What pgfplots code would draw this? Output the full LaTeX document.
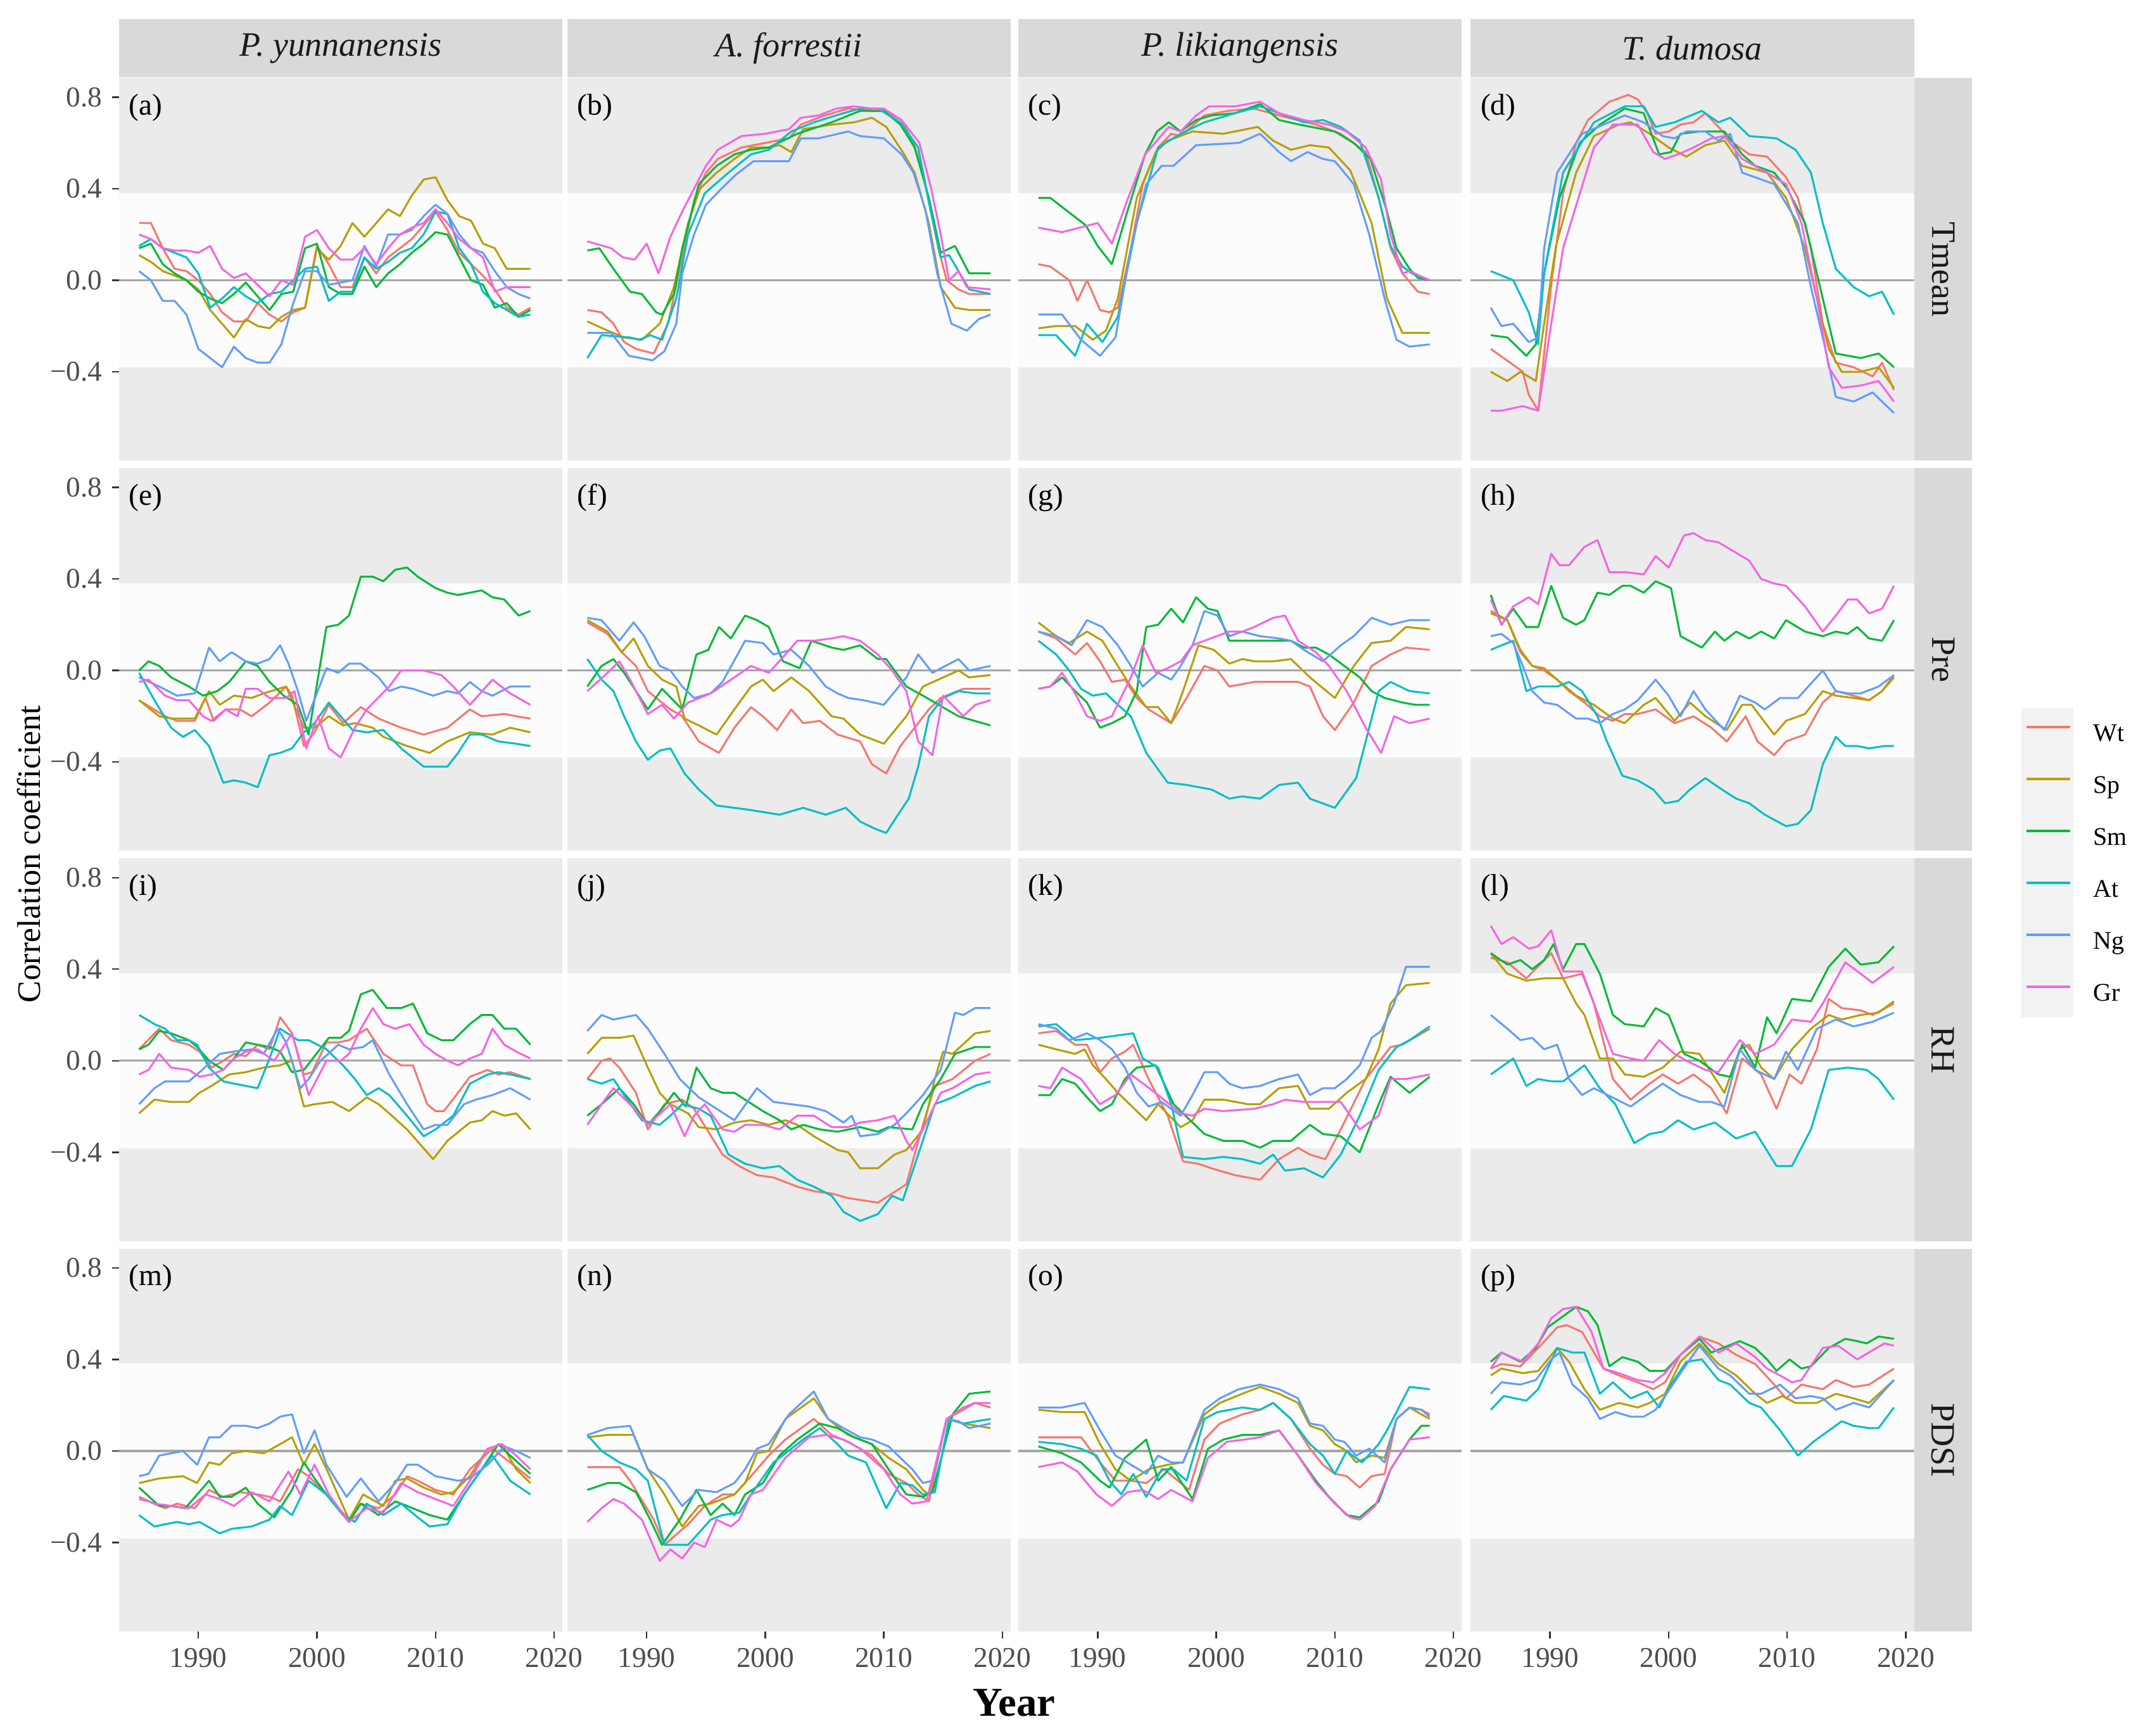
\documentclass[border=0pt]{standalone}
\usepackage{fontspec}
\setmainfont{Liberation Serif}
\usepackage{pgfplots}
\pgfplotsset{compat=1.18}

\definecolor{cWt}{HTML}{F8766D}
\definecolor{cSp}{HTML}{B79F00}
\definecolor{cSm}{HTML}{00BA38}
\definecolor{cAt}{HTML}{00BFC4}
\definecolor{cNg}{HTML}{619CFF}
\definecolor{cGr}{HTML}{F564E3}
\definecolor{panelc}{HTML}{EBEBEB}
\definecolor{bandc}{HTML}{FCFCFC}
\definecolor{stripc}{HTML}{D9D9D9}
\definecolor{keyc}{HTML}{F2F2F2}
\definecolor{zeroc}{HTML}{A6A6A6}
\definecolor{tickc}{HTML}{333333}
\definecolor{ticklc}{HTML}{4D4D4D}

\pgfplotsset{
  panel/.style={scale only axis, width=162.25pt, height=140pt,
    xmin=1983.3, xmax=2020.7, ymin=-0.788, ymax=0.884,
    axis line style={draw=none}, axis background/.style={fill=panelc},
    xtick=\empty, ytick=\empty, xtick pos=left, ytick pos=left,
    tick align=outside, major tick length=2.6pt,
    tick style={draw=tickc, line width=0.55pt},
    ticklabel style={font=\fontsize{10.5}{12}\selectfont, text=ticklc},
    anchor=north west},
  ylab/.style={ytick={-0.4,0,0.4,0.8}, yticklabels={−0.4,0.0,0.4,0.8}},
  xlab/.style={xtick={1990,2000,2010,2020}, xticklabels={1990,2000,2010,2020}},
  sWt/.style={cWt, line width=0.7pt, line join=round},
  sSp/.style={cSp, line width=0.7pt, line join=round},
  sSm/.style={cSm, line width=0.7pt, line join=round},
  sAt/.style={cAt, line width=0.7pt, line join=round},
  sNg/.style={cNg, line width=0.7pt, line join=round},
  sGr/.style={cGr, line width=0.7pt, line join=round},
}

\newcommand\panelbg{%
  \addplot[draw=none, fill=bandc, forget plot] coordinates {(1983.3,-0.381)(2020.7,-0.381)(2020.7,0.381)(1983.3,0.381)};
  \addplot[zeroc, line width=0.75pt, forget plot] coordinates {(1983.3,0)(2020.7,0)};}
\newcommand\plab[1]{\node[anchor=west, inner sep=0pt, font=\fontsize{11}{13}\selectfont] at (axis cs:1984.1,0.755) {(#1)};}

\begin{document}
\begin{tikzpicture}
\path[use as bounding box] (0pt,0pt) rectangle (784pt,-635pt);
% legend key background (behind the legend lines)
\fill[keyc] (739.5pt,-259pt) rectangle (758.5pt,-372pt);

% ---------------- row 1: Tmean ----------------
\begin{axis}[panel, ylab, at={(43.5pt,-28.5pt)}]
\panelbg
\addplot[sWt] coordinates {(1985,0.25)(1986,0.25)(1987,0.14)(1988,0.05)(1989,0.04)(1990,0.0)(1991,-0.06)(1992,-0.14)(1993,-0.18)(1994,-0.18)(1995,-0.1)(1996,-0.15)(1997,-0.18)(1998,-0.14)(1999,-0.12)(2000,0.15)(2001,0.07)(2002,-0.03)(2003,-0.03)(2004,0.1)(2005,0.03)(2006,0.1)(2007,0.14)(2008,0.18)(2009,0.24)(2010,0.3)(2011,0.22)(2012,0.12)(2013,0.07)(2014,0.02)(2015,-0.04)(2016,-0.12)(2017,-0.15)(2018,-0.12)};
\addplot[sSp] coordinates {(1985,0.11)(1986,0.08)(1987,0.04)(1988,0.02)(1989,0.0)(1990,-0.04)(1991,-0.13)(1992,-0.19)(1993,-0.25)(1994,-0.17)(1995,-0.2)(1996,-0.21)(1997,-0.16)(1998,-0.13)(1999,-0.12)(2000,0.14)(2001,0.09)(2002,0.15)(2003,0.25)(2004,0.19)(2005,0.25)(2006,0.31)(2007,0.28)(2008,0.37)(2009,0.44)(2010,0.45)(2011,0.35)(2012,0.28)(2013,0.26)(2014,0.16)(2015,0.14)(2016,0.05)(2017,0.05)(2018,0.05)};
\addplot[sSm] coordinates {(1985,0.14)(1986,0.16)(1987,0.07)(1988,0.03)(1989,0.0)(1990,-0.05)(1991,-0.08)(1992,-0.1)(1993,-0.06)(1994,-0.01)(1995,-0.07)(1996,-0.13)(1997,-0.06)(1998,-0.05)(1999,0.14)(2000,0.16)(2001,-0.03)(2002,-0.06)(2003,-0.06)(2004,0.06)(2005,-0.03)(2006,0.03)(2007,0.07)(2008,0.12)(2009,0.16)(2010,0.21)(2011,0.2)(2012,0.1)(2013,0.0)(2014,-0.02)(2015,-0.12)(2016,-0.1)(2017,-0.16)(2018,-0.13)};
\addplot[sAt] coordinates {(1985,0.15)(1986,0.18)(1987,0.14)(1988,0.12)(1989,0.1)(1990,0.03)(1991,-0.12)(1992,-0.08)(1993,-0.03)(1994,-0.07)(1995,-0.1)(1996,-0.06)(1997,-0.05)(1998,0.0)(1999,0.05)(2000,0.06)(2001,-0.09)(2002,-0.05)(2003,-0.05)(2004,0.1)(2005,0.05)(2006,0.08)(2007,0.12)(2008,0.14)(2009,0.2)(2010,0.3)(2011,0.29)(2012,0.14)(2013,0.07)(2014,-0.05)(2015,-0.1)(2016,-0.13)(2017,-0.16)(2018,-0.15)};
\addplot[sNg] coordinates {(1985,0.04)(1986,0.0)(1987,-0.09)(1988,-0.09)(1989,-0.15)(1990,-0.3)(1991,-0.34)(1992,-0.38)(1993,-0.29)(1994,-0.34)(1995,-0.36)(1996,-0.36)(1997,-0.28)(1998,-0.1)(1999,0.04)(2000,0.04)(2001,-0.02)(2002,-0.01)(2003,0.0)(2004,0.15)(2005,0.06)(2006,0.2)(2007,0.2)(2008,0.22)(2009,0.28)(2010,0.33)(2011,0.29)(2012,0.2)(2013,0.14)(2014,0.12)(2015,0.04)(2016,-0.03)(2017,-0.06)(2018,-0.08)};
\addplot[sGr] coordinates {(1985,0.2)(1986,0.18)(1987,0.14)(1988,0.13)(1989,0.13)(1990,0.12)(1991,0.15)(1992,0.05)(1993,0.01)(1994,0.03)(1995,-0.02)(1996,-0.07)(1997,0.0)(1998,-0.02)(1999,0.19)(2000,0.22)(2001,0.14)(2002,0.09)(2003,0.09)(2004,0.14)(2005,0.07)(2006,0.14)(2007,0.2)(2008,0.23)(2009,0.25)(2010,0.31)(2011,0.25)(2012,0.18)(2013,0.14)(2014,0.1)(2015,-0.05)(2016,-0.03)(2017,-0.03)(2018,-0.03)};
\plab{a}
\end{axis}

\begin{axis}[panel, at={(207.5pt,-28.5pt)}]
\panelbg
\addplot[sWt] coordinates {(1985,-0.13)(1986.2,-0.14)(1987.2,-0.19)(1988.1,-0.27)(1989.1,-0.3)(1990.6,-0.32)(1991.8,-0.19)(1993,0.1)(1994,0.35)(1995,0.47)(1996,0.53)(1998,0.58)(2000,0.6)(2002,0.62)(2003,0.68)(2005,0.72)(2007,0.75)(2009,0.74)(2010,0.74)(2011.5,0.7)(2012.5,0.6)(2013.3,0.47)(2014.6,0.14)(2015.3,0.0)(2016.3,-0.04)(2017.2,-0.06)(2019,-0.06)};
\addplot[sSp] coordinates {(1985,-0.18)(1986.7,-0.22)(1988.1,-0.25)(1989.6,-0.26)(1991.1,-0.19)(1992.3,-0.03)(1993.5,0.25)(1994.5,0.4)(1995.9,0.47)(1997.4,0.53)(1998.8,0.58)(2000.3,0.58)(2001.2,0.59)(2002.2,0.56)(2003.2,0.66)(2005.6,0.68)(2007.5,0.69)(2009,0.71)(2010.2,0.67)(2011.6,0.56)(2012.6,0.47)(2013.8,0.25)(2014.8,-0.03)(2016,-0.12)(2017.2,-0.13)(2019,-0.13)};
\addplot[sSm] coordinates {(1985,0.13)(1986,0.14)(1987.2,0.05)(1988.6,-0.05)(1989.6,-0.06)(1990.8,-0.14)(1991.3,-0.15)(1992.3,-0.06)(1993,0.14)(1994.4,0.42)(1995.9,0.5)(1997.4,0.55)(1998.8,0.57)(2000.3,0.58)(2002.7,0.64)(2005.6,0.69)(2008,0.74)(2010,0.74)(2011.4,0.68)(2012.6,0.58)(2013.8,0.36)(2014.8,0.12)(2016,0.15)(2017.2,0.03)(2019,0.03)};
\addplot[sAt] coordinates {(1985,-0.34)(1986.2,-0.24)(1988.6,-0.25)(1989.4,-0.26)(1990.3,-0.24)(1991.3,-0.26)(1992.5,-0.08)(1993.5,0.2)(1994.9,0.38)(1996.9,0.47)(1998.8,0.55)(2000.3,0.57)(2002.2,0.65)(2004.1,0.69)(2006.6,0.73)(2008,0.75)(2009.5,0.75)(2011.4,0.69)(2012.9,0.58)(2013.8,0.34)(2014.8,0.1)(2015.5,0.11)(2017.2,-0.04)(2019,-0.06)};
\addplot[sNg] coordinates {(1985,-0.23)(1987,-0.23)(1988.5,-0.33)(1989.5,-0.34)(1990.5,-0.35)(1991.5,-0.31)(1992.5,-0.19)(1993,0.03)(1994,0.2)(1995,0.33)(1996.5,0.41)(1997.5,0.46)(1999,0.52)(2002,0.52)(2003,0.62)(2004.5,0.62)(2007,0.65)(2008,0.63)(2010,0.62)(2011.5,0.55)(2012.5,0.47)(2013.5,0.31)(2014.5,0.03)(2015.7,-0.19)(2017,-0.22)(2018,-0.17)(2019,-0.15)};
\addplot[sGr] coordinates {(1985,0.17)(1987,0.14)(1988,0.1)(1989,0.09)(1990,0.16)(1991,0.03)(1992,0.19)(1993,0.3)(1994,0.4)(1995,0.5)(1996,0.57)(1997,0.6)(1998,0.63)(2000,0.64)(2002,0.66)(2003,0.71)(2004.5,0.72)(2006,0.75)(2007.5,0.76)(2009,0.75)(2010,0.75)(2011.5,0.7)(2013,0.6)(2014,0.4)(2014.8,0.2)(2015.5,0.0)(2016.3,0.04)(2017,-0.03)(2019,-0.04)};
\plab{b}
\end{axis}

\begin{axis}[panel, at={(372.5pt,-28.5pt)}]
\panelbg
\addplot[sWt] coordinates {(1985,0.07)(1986,0.06)(1987.6,0.0)(1988.3,-0.09)(1989.1,0.0)(1990.2,-0.13)(1991,-0.14)(1991.7,-0.12)(1992.8,0.14)(1993.8,0.42)(1995.1,0.58)(1996.2,0.64)(1997,0.63)(1999,0.72)(2001,0.74)(2003.2,0.75)(2005.3,0.72)(2008.4,0.68)(2010.5,0.64)(2012.6,0.56)(2013.7,0.36)(2014.7,0.14)(2015.7,0.03)(2017,-0.05)(2018,-0.06)};
\addplot[sSp] coordinates {(1985,-0.21)(1986.5,-0.2)(1988.1,-0.2)(1989.6,-0.26)(1990.7,-0.22)(1991.7,-0.08)(1993.3,0.36)(1994.9,0.56)(1995.9,0.61)(1998,0.65)(2000.6,0.64)(2003.5,0.67)(2004.8,0.61)(2006.3,0.57)(2007.9,0.59)(2009.5,0.58)(2011.3,0.48)(2013.1,0.25)(2014.4,-0.08)(2015.7,-0.23)(2018,-0.23)};
\addplot[sSm] coordinates {(1985,0.36)(1986,0.36)(1987.5,0.3)(1989,0.24)(1990,0.15)(1991.2,0.07)(1992.5,0.3)(1994,0.55)(1995,0.65)(1996,0.69)(1997,0.65)(1998.3,0.7)(1999.6,0.72)(2001.6,0.73)(2003.7,0.77)(2005.3,0.7)(2007,0.68)(2009,0.66)(2010,0.65)(2011.6,0.6)(2013,0.53)(2014.4,0.3)(2015.2,0.14)(2016.3,0.05)(2017,0.01)(2018,0.0)};
\addplot[sAt] coordinates {(1985,-0.24)(1986.5,-0.24)(1988.1,-0.33)(1989.1,-0.19)(1990.4,-0.27)(1991.7,-0.16)(1993.3,0.25)(1995.1,0.58)(1997,0.64)(1999,0.69)(2001.6,0.73)(2003.7,0.76)(2005.3,0.73)(2007.4,0.69)(2009,0.7)(2010.5,0.67)(2012.1,0.61)(2013.7,0.36)(2014.7,0.15)(2015.7,0.06)(2016.5,0.03)(2018,0.0)};
\addplot[sNg] coordinates {(1985,-0.15)(1987,-0.15)(1988.6,-0.26)(1990.2,-0.33)(1991.5,-0.25)(1992.8,0.14)(1994.1,0.42)(1995.4,0.5)(1996.4,0.5)(1998.3,0.59)(2001.9,0.6)(2003.7,0.64)(2005.3,0.56)(2006.3,0.52)(2007.7,0.56)(2009,0.53)(2010,0.52)(2011.6,0.42)(2012.9,0.2)(2014.2,-0.08)(2015.2,-0.26)(2016.3,-0.29)(2018,-0.28)};
\addplot[sGr] coordinates {(1985,0.23)(1987,0.21)(1988.5,0.23)(1990,0.25)(1991.2,0.16)(1992.5,0.35)(1994,0.55)(1996,0.67)(1997,0.65)(1998.3,0.72)(1999.4,0.76)(2001.6,0.76)(2003.7,0.78)(2005.3,0.73)(2007.4,0.7)(2009.5,0.68)(2011,0.65)(2012.6,0.58)(2013.9,0.44)(2014.7,0.2)(2015.7,0.03)(2016.3,0.04)(2018,0.0)};
\plab{c}
\end{axis}

\begin{axis}[panel, at={(538pt,-28.5pt)}]
\panelbg
\addplot[sWt] coordinates {(1985,-0.3)(1986.9,-0.37)(1987.7,-0.4)(1988.2,-0.5)(1989,-0.57)(1990.1,-0.02)(1991.1,0.38)(1992.2,0.6)(1993.2,0.7)(1995,0.78)(1996.6,0.81)(1997.4,0.79)(1998.2,0.73)(1998.9,0.64)(2000,0.65)(2001,0.68)(2002.1,0.69)(2003.1,0.73)(2004.2,0.67)(2005.2,0.61)(2006.8,0.55)(2008.3,0.54)(2009.9,0.45)(2010.9,0.36)(2012,0.14)(2013,-0.19)(2014.1,-0.36)(2015.6,-0.38)(2017.2,-0.42)(2018,-0.36)(2019,-0.48)};
\addplot[sSp] coordinates {(1985,-0.4)(1986.4,-0.44)(1987.5,-0.4)(1988.8,-0.44)(1989.5,-0.19)(1990.5,0.15)(1992.2,0.47)(1993.7,0.63)(1995.8,0.68)(1996.8,0.69)(1998.4,0.64)(2000,0.58)(2001.5,0.54)(2003.1,0.59)(2004.7,0.61)(2006.2,0.5)(2008.3,0.47)(2009.9,0.36)(2011.5,0.14)(2012.5,-0.08)(2013.5,-0.3)(2014.6,-0.4)(2016.2,-0.4)(2017.7,-0.38)(2019,-0.47)};
\addplot[sSm] coordinates {(1985,-0.24)(1986.4,-0.25)(1988,-0.33)(1988.8,-0.28)(1989.5,0.03)(1990.8,0.36)(1992.5,0.6)(1994.2,0.68)(1996.3,0.75)(1997.9,0.73)(1999.2,0.55)(2000.2,0.56)(2001,0.64)(2002.6,0.65)(2004.7,0.65)(2006.2,0.55)(2007.3,0.5)(2008.9,0.47)(2010,0.4)(2011.5,0.25)(2013,-0.08)(2014.1,-0.32)(2016.2,-0.34)(2017.7,-0.32)(2019,-0.38)};
\addplot[sAt] coordinates {(1985,0.04)(1986.9,0.0)(1988.2,-0.14)(1989,-0.28)(1989.5,0.03)(1991.1,0.47)(1993.7,0.69)(1996.3,0.76)(1997.9,0.76)(1998.9,0.67)(2000.5,0.69)(2002.8,0.74)(2004.2,0.69)(2005.2,0.71)(2006.8,0.63)(2009.1,0.62)(2010.7,0.57)(2012,0.47)(2013,0.25)(2014.1,0.05)(2015.6,-0.03)(2016.9,-0.07)(2018,-0.05)(2019,-0.15)};
\addplot[sNg] coordinates {(1985,-0.12)(1985.9,-0.2)(1986.9,-0.19)(1988.2,-0.27)(1989,-0.25)(1989.5,0.14)(1990.6,0.47)(1992.7,0.64)(1996.3,0.72)(1997.9,0.69)(1999.5,0.63)(2000.5,0.62)(2001.5,0.65)(2003.1,0.65)(2004.2,0.61)(2005.2,0.64)(2006.2,0.47)(2008.9,0.42)(2010.9,0.25)(2012,-0.03)(2013,-0.25)(2014.1,-0.51)(2015.6,-0.53)(2017.2,-0.49)(2019,-0.58)};
\addplot[sGr] coordinates {(1985,-0.57)(1985.9,-0.57)(1987.7,-0.55)(1989,-0.57)(1990.1,-0.19)(1991.1,0.14)(1992.4,0.36)(1993.7,0.58)(1995.3,0.68)(1997.4,0.68)(1998.7,0.56)(1999.7,0.53)(2000.8,0.55)(2002.1,0.58)(2003.6,0.62)(2004.7,0.63)(2006.2,0.53)(2008.3,0.47)(2009.9,0.42)(2011.2,0.25)(2012.5,-0.08)(2013.5,-0.38)(2014.6,-0.47)(2016.2,-0.46)(2017.7,-0.44)(2019,-0.53)};
\plab{d}
\end{axis}

% ---------------- row 2: Pre ----------------
\begin{axis}[panel, ylab, at={(43.5pt,-171.25pt)}]
\panelbg
\addplot[sWt] coordinates {(1985,-0.13)(1987.2,-0.2)(1988.2,-0.22)(1989.7,-0.22)(1990.6,-0.12)(1991.3,-0.22)(1992.3,-0.17)(1993.5,-0.17)(1994.5,-0.2)(1996,-0.14)(1997.4,-0.07)(1997.9,-0.11)(1998.9,-0.33)(1999.8,-0.27)(2001,-0.15)(2002.2,-0.23)(2003.7,-0.16)(2005.2,-0.21)(2007.1,-0.25)(2009,-0.28)(2011,-0.25)(2012.9,-0.17)(2013.9,-0.2)(2015.8,-0.19)(2016.8,-0.2)(2018,-0.21)};
\addplot[sSp] coordinates {(1985,-0.13)(1986.7,-0.2)(1987.7,-0.21)(1989.7,-0.21)(1990.9,-0.09)(1991.8,-0.15)(1993,-0.11)(1994.5,-0.12)(1995.5,-0.1)(1997.4,-0.07)(1998.9,-0.25)(1999.8,-0.25)(2001,-0.2)(2002.2,-0.24)(2003.2,-0.23)(2004.7,-0.25)(2005.6,-0.29)(2007.6,-0.33)(2009.5,-0.36)(2011,-0.31)(2012.9,-0.27)(2014.8,-0.28)(2016.3,-0.25)(2018,-0.27)};
\addplot[sSm] coordinates {(1985,0.0)(1985.8,0.04)(1986.7,0.02)(1987.7,-0.03)(1989.2,-0.07)(1990.4,-0.11)(1991.6,-0.09)(1992.6,-0.05)(1994,0.04)(1995,0.02)(1996,-0.05)(1997.2,-0.11)(1998.4,-0.15)(1999.3,-0.28)(2000.8,0.19)(2001.8,0.2)(2002.7,0.24)(2003.7,0.41)(2004.7,0.41)(2005.6,0.39)(2006.6,0.44)(2007.6,0.45)(2008.5,0.41)(2010,0.36)(2011,0.34)(2011.9,0.33)(2013.9,0.35)(2014.8,0.32)(2015.8,0.31)(2017,0.24)(2018,0.26)};
\addplot[sAt] coordinates {(1985,-0.01)(1986.3,-0.13)(1987.7,-0.25)(1988.7,-0.29)(1989.7,-0.26)(1990.9,-0.33)(1992.1,-0.49)(1993,-0.48)(1994,-0.49)(1995,-0.51)(1996,-0.37)(1996.9,-0.36)(1997.9,-0.34)(1998.9,-0.27)(1999.8,-0.23)(2001,-0.14)(2002,-0.2)(2003,-0.26)(2004.2,-0.27)(2005.6,-0.26)(2007.1,-0.34)(2009,-0.42)(2011,-0.42)(2011.9,-0.36)(2012.9,-0.28)(2013.9,-0.28)(2015.3,-0.31)(2016.8,-0.32)(2018,-0.33)};
\addplot[sNg] coordinates {(1985,-0.03)(1986.7,-0.07)(1988.2,-0.11)(1989.7,-0.1)(1990.9,0.1)(1991.8,0.04)(1992.8,0.08)(1994,0.04)(1995,0.03)(1996,0.05)(1996.9,0.11)(1997.6,0.03)(1998.4,-0.09)(1999.1,-0.22)(2000.8,0.01)(2001.8,-0.01)(2002.7,0.03)(2003.7,0.03)(2005.2,-0.03)(2006.1,-0.09)(2007.1,-0.07)(2008.1,-0.08)(2009.8,-0.11)(2011,-0.09)(2011.9,-0.1)(2012.9,-0.05)(2013.9,-0.09)(2014.8,-0.11)(2016.3,-0.07)(2018,-0.07)};
\addplot[sGr] coordinates {(1985,-0.05)(1985.8,-0.04)(1987.2,-0.11)(1988.2,-0.13)(1989.2,-0.13)(1990.4,-0.2)(1991.1,-0.22)(1992.3,-0.17)(1993.3,-0.2)(1994,-0.08)(1995,-0.08)(1996,-0.12)(1997.4,-0.12)(1998.1,-0.09)(1999.1,-0.34)(2000.1,-0.2)(2001,-0.34)(2002,-0.38)(2003.2,-0.25)(2004.2,-0.17)(2006.1,-0.07)(2007.1,0.0)(2009,0.0)(2010.5,-0.02)(2011.5,-0.07)(2012.9,-0.15)(2014.8,-0.04)(2016.3,-0.1)(2018,-0.15)};
\plab{e}
\end{axis}

\begin{axis}[panel, at={(207.5pt,-171.25pt)}]
\panelbg
\addplot[sWt] coordinates {(1985,0.21)(1986.7,0.16)(1987.9,0.08)(1989.1,0.02)(1990.1,-0.09)(1992,-0.17)(1993,-0.2)(1994.4,-0.31)(1996.1,-0.36)(1997.4,-0.25)(1998.8,-0.16)(1999.8,-0.2)(2001,-0.26)(2002.2,-0.17)(2003.2,-0.23)(2004.6,-0.22)(2006.1,-0.28)(2008,-0.31)(2009,-0.41)(2010.2,-0.45)(2011.4,-0.33)(2012.6,-0.25)(2013.8,-0.17)(2014.8,-0.12)(2016.7,-0.08)(2019,-0.08)};
\addplot[sSp] coordinates {(1985,0.22)(1986.7,0.17)(1987.9,0.08)(1988.9,0.14)(1990.1,0.02)(1991.3,-0.04)(1992.5,-0.07)(1993.2,-0.21)(1994.4,-0.24)(1995.9,-0.28)(1997.4,-0.17)(1998.8,-0.07)(1999.8,-0.04)(2000.7,-0.09)(2002.2,-0.03)(2003.7,-0.09)(2005.6,-0.2)(2006.6,-0.21)(2008,-0.28)(2010,-0.32)(2011.9,-0.2)(2013.3,-0.07)(2016.3,0.0)(2017.2,-0.03)(2019,-0.02)};
\addplot[sSm] coordinates {(1985,-0.07)(1986.2,0.02)(1987.2,0.05)(1988.1,-0.01)(1990.1,-0.17)(1991.3,-0.08)(1993,-0.17)(1994.2,0.07)(1995.2,0.09)(1996.1,0.19)(1997.1,0.14)(1998.3,0.24)(1999.3,0.22)(2000.3,0.19)(2001.5,0.04)(2002.9,0.01)(2003.9,0.13)(2005.6,0.1)(2006.6,0.09)(2008,0.11)(2009.5,0.05)(2010.2,0.05)(2011.9,-0.07)(2013.3,-0.11)(2016.3,-0.2)(2019,-0.24)};
\addplot[sAt] coordinates {(1985,0.05)(1986.2,-0.04)(1987.2,-0.09)(1988.1,-0.2)(1989.1,-0.31)(1990.1,-0.39)(1991.1,-0.35)(1992,-0.34)(1993.2,-0.45)(1994.4,-0.52)(1995.9,-0.59)(1997.4,-0.6)(1998.8,-0.61)(2001.2,-0.63)(2003.2,-0.6)(2005.1,-0.63)(2006.8,-0.6)(2008,-0.66)(2009.2,-0.69)(2010.2,-0.71)(2011.2,-0.63)(2012.1,-0.56)(2012.9,-0.42)(2013.8,-0.2)(2015,-0.12)(2016.3,-0.09)(2017.7,-0.1)(2019,-0.1)};
\addplot[sNg] coordinates {(1985,0.23)(1986.2,0.22)(1987.7,0.13)(1988.9,0.21)(1989.8,0.15)(1991.1,0.02)(1992,0.0)(1993,-0.07)(1994,-0.12)(1995.4,-0.1)(1996.4,-0.05)(1998.3,0.13)(1999.8,0.12)(2000.7,0.07)(2002.2,0.09)(2003.7,0.02)(2005.1,-0.07)(2006.1,-0.1)(2007,-0.12)(2008.3,-0.13)(2010,-0.15)(2011.9,-0.03)(2012.9,0.07)(2014.1,-0.01)(2016.3,0.05)(2017.2,0.0)(2019,0.02)};
\addplot[sGr] coordinates {(1985,-0.09)(1986.7,-0.01)(1987.7,0.04)(1988.6,-0.04)(1990.1,-0.19)(1991.3,-0.15)(1992.3,-0.21)(1993.5,-0.14)(1995.4,-0.1)(1997.4,-0.03)(1998.8,0.02)(2000.3,-0.01)(2001.7,0.07)(2002.7,0.13)(2004.1,0.13)(2005.6,0.14)(2006.6,0.15)(2008,0.13)(2009.5,0.07)(2010.7,0.0)(2011.9,-0.09)(2012.9,-0.31)(2014.1,-0.37)(2015,-0.11)(2016.7,-0.2)(2017.7,-0.15)(2019,-0.13)};
\plab{f}
\end{axis}

\begin{axis}[panel, at={(372.5pt,-171.25pt)}]
\panelbg
\addplot[sWt] coordinates {(1985,0.17)(1986.5,0.14)(1988.1,0.07)(1989.1,0.12)(1990.2,0.04)(1991.2,-0.05)(1992.3,-0.04)(1993.3,-0.12)(1994.3,-0.17)(1996.2,-0.23)(1997.5,-0.12)(1999,0.02)(2000.1,0.0)(2001.1,-0.07)(2003.2,-0.05)(2006.9,-0.05)(2007.9,-0.07)(2009,-0.2)(2010,-0.26)(2011.6,-0.14)(2013.1,0.02)(2014.7,0.07)(2016,0.1)(2018,0.09)};
\addplot[sSp] coordinates {(1985,0.21)(1986.5,0.15)(1987.6,0.12)(1989.1,0.17)(1990.4,0.13)(1991.7,0.02)(1992.8,-0.07)(1994.1,-0.16)(1995.1,-0.16)(1996.2,-0.23)(1997.2,-0.09)(1998.5,0.11)(1999.8,0.09)(2001.1,0.03)(2002.2,0.05)(2003.2,0.04)(2004.8,0.04)(2006.3,0.05)(2007.9,-0.03)(2010,-0.12)(2011.6,0.02)(2013.1,0.12)(2014.7,0.13)(2016,0.19)(2018,0.18)};
\addplot[sSm] coordinates {(1985,-0.08)(1986,-0.07)(1987,-0.03)(1988.1,-0.09)(1989.1,-0.14)(1990.2,-0.25)(1991.2,-0.23)(1992.3,-0.2)(1993.3,-0.09)(1994.1,0.19)(1995.1,0.2)(1996.2,0.27)(1997.2,0.21)(1998.3,0.32)(1999.3,0.27)(2000.1,0.26)(2001.1,0.13)(2006.3,0.13)(2007.4,0.1)(2008.4,0.1)(2009.5,0.07)(2010.8,0.02)(2012.1,-0.03)(2013.1,-0.09)(2014.2,-0.12)(2015.7,-0.14)(2016.8,-0.15)(2018,-0.15)};
\addplot[sAt] coordinates {(1985,0.13)(1986.5,0.07)(1987.6,0.0)(1988.6,-0.08)(1989.6,-0.11)(1990.7,-0.1)(1991.7,-0.15)(1992.8,-0.2)(1994.1,-0.36)(1995.9,-0.49)(1997.5,-0.5)(1999.6,-0.52)(2001.1,-0.56)(2002.2,-0.55)(2003.7,-0.56)(2005.3,-0.5)(2006.9,-0.49)(2007.9,-0.56)(2010,-0.6)(2011.8,-0.47)(2012.6,-0.31)(2013.7,-0.09)(2014.7,-0.05)(2016.3,-0.09)(2018,-0.1)};
\addplot[sNg] coordinates {(1985,0.17)(1986.5,0.15)(1987.8,0.11)(1989.1,0.22)(1990.4,0.19)(1991.7,0.11)(1992.8,0.02)(1993.8,-0.07)(1995.1,-0.01)(1996.2,-0.04)(1997,0.02)(1998,0.11)(1999,0.26)(2000.1,0.24)(2001.1,0.15)(2002.2,0.17)(2003.7,0.15)(2005.3,0.14)(2006.3,0.13)(2007.4,0.09)(2009,0.04)(2010.5,0.11)(2011.6,0.15)(2013.1,0.23)(2014.7,0.2)(2016.3,0.22)(2018,0.22)};
\addplot[sGr] coordinates {(1985,-0.08)(1986,-0.07)(1987,-0.01)(1988.1,-0.1)(1989.1,-0.2)(1990.2,-0.22)(1991.2,-0.2)(1992.8,-0.03)(1993.8,0.11)(1994.9,-0.01)(1995.9,0.01)(1997,0.04)(1998,0.11)(1999,0.13)(2001.1,0.17)(2002.2,0.17)(2003.2,0.19)(2004.8,0.23)(2005.8,0.24)(2006.9,0.13)(2008.4,0.08)(2009.5,0.02)(2011,-0.09)(2012.6,-0.25)(2013.9,-0.36)(2015,-0.2)(2016.3,-0.23)(2018,-0.21)};
\plab{g}
\end{axis}

\begin{axis}[panel, at={(538pt,-171.25pt)},
  legend style={at={(1.2512,0.3332)}, anchor=north west, draw=none, fill=none,
    inner sep=0pt, outer sep=0pt, row sep=10pt, column sep=0pt,
    nodes={inner sep=0pt, text height=6.6pt, text depth=2.4pt, font=\fontsize{9.3}{11}\selectfont},
    /tikz/every odd column/.style={column sep=8pt}},
  legend cell align=left,
  legend image code/.code={\draw[#1, line width=0.8pt] (0pt,3.1pt) -- (16pt,3.1pt);}]
\panelbg
\addplot[sWt] coordinates {(1985,0.26)(1986.4,0.22)(1987.5,0.08)(1988.5,0.02)(1989.5,0.0)(1990.6,-0.04)(1991.6,-0.09)(1992.9,-0.14)(1994.2,-0.2)(1995.3,-0.22)(1996.3,-0.19)(1997.4,-0.19)(1998.9,-0.17)(2000.5,-0.23)(2002.1,-0.2)(2003.6,-0.25)(2004.9,-0.31)(2006.5,-0.2)(2007.5,-0.31)(2008.9,-0.37)(2009.9,-0.31)(2011.5,-0.28)(2013,-0.14)(2014.1,-0.09)(2015.6,-0.11)(2016.9,-0.13)(2018,-0.09)(2019,-0.02)};
\addplot[sSp] coordinates {(1985,0.25)(1986.4,0.22)(1987.5,0.09)(1988.5,0.02)(1989.5,0.01)(1990.6,-0.04)(1992.2,-0.11)(1993.7,-0.15)(1995.3,-0.21)(1996.3,-0.23)(1997.9,-0.15)(1998.9,-0.12)(2000.5,-0.22)(2001.8,-0.14)(2003.1,-0.2)(2004.9,-0.26)(2006.2,-0.15)(2007,-0.15)(2008.9,-0.28)(2009.9,-0.22)(2011.5,-0.19)(2013,-0.09)(2014.1,-0.11)(2015.6,-0.12)(2016.9,-0.13)(2018,-0.09)(2019,-0.03)};
\addplot[sSm] coordinates {(1985,0.33)(1985.9,0.2)(1986.9,0.27)(1988,0.19)(1989,0.19)(1990.1,0.37)(1991.1,0.23)(1992.2,0.2)(1992.9,0.22)(1994,0.34)(1995,0.33)(1996.1,0.37)(1996.8,0.37)(1997.9,0.34)(1998.9,0.39)(2000.2,0.36)(2001,0.15)(2002.8,0.1)(2003.9,0.17)(2004.7,0.13)(2005.7,0.17)(2006.8,0.14)(2007.8,0.17)(2008.9,0.14)(2009.9,0.22)(2011.5,0.17)(2013,0.15)(2014.1,0.17)(2015.1,0.16)(2015.9,0.19)(2016.9,0.14)(2018,0.13)(2019,0.22)};
\addplot[sAt] coordinates {(1985,0.09)(1985.9,0.11)(1986.9,0.13)(1988,-0.09)(1989,-0.07)(1990.6,-0.07)(1991.6,-0.05)(1992.7,-0.09)(1994,-0.2)(1994.8,-0.31)(1996.1,-0.46)(1997.4,-0.48)(1998.7,-0.52)(1999.7,-0.58)(2000.8,-0.57)(2001.8,-0.52)(2003.1,-0.47)(2004.2,-0.51)(2005.7,-0.56)(2006.8,-0.58)(2008.1,-0.63)(2009.9,-0.68)(2010.9,-0.67)(2012,-0.61)(2013,-0.41)(2014.1,-0.29)(2014.9,-0.33)(2015.9,-0.33)(2016.9,-0.34)(2018.2,-0.33)(2019,-0.33)};
\addplot[sNg] coordinates {(1985,0.15)(1985.9,0.16)(1986.9,0.12)(1987.7,0.02)(1988.5,-0.09)(1989.5,-0.14)(1990.6,-0.15)(1992.2,-0.21)(1993.2,-0.21)(1994.2,-0.23)(1995.3,-0.19)(1996.3,-0.17)(1997.4,-0.13)(1998.9,-0.04)(2000,-0.11)(2001,-0.2)(2002.1,-0.09)(2003.1,-0.17)(2004.7,-0.26)(2006,-0.11)(2007.3,-0.14)(2008.1,-0.17)(2009.4,-0.12)(2010.9,-0.12)(2013,0.0)(2014.1,-0.09)(2015.1,-0.1)(2016.2,-0.1)(2017.7,-0.07)(2019,-0.02)};
\addplot[sGr] coordinates {(1985,0.31)(1985.9,0.2)(1986.9,0.28)(1988.2,0.32)(1989,0.29)(1990.1,0.51)(1990.8,0.46)(1991.6,0.46)(1992.9,0.54)(1994,0.57)(1995,0.43)(1996.3,0.43)(1997.9,0.42)(1998.9,0.5)(2000,0.45)(2001.3,0.59)(2002.1,0.6)(2003.1,0.57)(2004.2,0.56)(2005.5,0.52)(2006.8,0.48)(2007.8,0.4)(2008.9,0.38)(2009.9,0.37)(2011.5,0.28)(2013,0.17)(2014.1,0.24)(2015.1,0.31)(2015.9,0.31)(2016.9,0.25)(2018,0.27)(2019,0.37)};
\legend{Wt,Sp,Sm,At,Ng,Gr}
\plab{h}
\end{axis}

% ---------------- row 3: RH ----------------
\begin{axis}[panel, ylab, at={(43.5pt,-314pt)}]
\panelbg
\addplot[sWt] coordinates {(1985,0.05)(1986.7,0.14)(1987.7,0.09)(1989.2,0.07)(1990.1,0.04)(1991.1,-0.03)(1992.1,0.0)(1993,0.03)(1994,0.02)(1995,0.07)(1996,0.05)(1996.9,0.19)(1997.9,0.12)(1998.9,-0.06)(1999.6,-0.05)(2000.8,0.08)(2001.8,0.08)(2002.7,0.09)(2004.2,0.14)(2005.6,0.03)(2007.1,-0.02)(2008.1,-0.02)(2009.3,-0.19)(2010,-0.22)(2010.7,-0.22)(2011.9,-0.14)(2012.9,-0.07)(2014.4,-0.04)(2015.3,-0.06)(2016.3,-0.05)(2018,-0.08)};
\addplot[sSp] coordinates {(1985,-0.23)(1986.3,-0.17)(1987.7,-0.18)(1989.2,-0.18)(1990.1,-0.14)(1991.1,-0.11)(1992.6,-0.06)(1994,-0.05)(1995.5,-0.03)(1996.9,-0.02)(1997.9,0.0)(1998.9,-0.2)(1999.8,-0.19)(2001.3,-0.18)(2002.7,-0.22)(2004.2,-0.16)(2005.2,-0.19)(2006.1,-0.23)(2007.6,-0.3)(2009.8,-0.43)(2011,-0.35)(2012.9,-0.27)(2013.9,-0.26)(2014.8,-0.22)(2015.8,-0.24)(2016.8,-0.23)(2018,-0.3)};
\addplot[sSm] coordinates {(1985,0.05)(1985.8,0.07)(1986.7,0.13)(1987.7,0.12)(1989.2,0.09)(1989.9,0.06)(1990.9,0.0)(1992.1,-0.04)(1993,0.01)(1994,0.08)(1995,0.07)(1996,0.06)(1996.9,0.04)(1997.9,-0.05)(1998.9,-0.04)(2001,0.1)(2002,0.1)(2002.7,0.13)(2003.7,0.29)(2004.7,0.31)(2005.9,0.23)(2007.1,0.23)(2008.1,0.25)(2009.3,0.12)(2010.5,0.09)(2011.5,0.09)(2012.9,0.16)(2013.9,0.2)(2014.8,0.2)(2015.8,0.14)(2016.8,0.14)(2018,0.07)};
\addplot[sAt] coordinates {(1985,0.2)(1986.3,0.16)(1987.2,0.14)(1988.2,0.09)(1989.2,0.09)(1989.9,0.07)(1990.9,-0.03)(1992.1,-0.09)(1993,-0.1)(1994,-0.11)(1995,-0.12)(1996,0.01)(1996.9,0.14)(1998.4,0.09)(1999.3,0.09)(2000.8,0.05)(2002.2,-0.02)(2003.2,-0.08)(2004.2,-0.15)(2005.2,-0.12)(2006.1,-0.15)(2007.6,-0.24)(2009,-0.33)(2010,-0.3)(2011.5,-0.24)(2012.9,-0.1)(2014.4,-0.06)(2015.3,-0.05)(2016.3,-0.06)(2018,-0.08)};
\addplot[sNg] coordinates {(1985,-0.19)(1986.3,-0.12)(1987.2,-0.09)(1989.2,-0.09)(1990.1,-0.05)(1991.8,0.03)(1993,0.04)(1994.5,0.05)(1995.5,0.03)(1996.7,0.14)(1997.4,0.08)(1998.6,-0.12)(1999.3,-0.08)(2000.3,0.0)(2001.8,0.07)(2002.7,0.05)(2003.9,0.06)(2004.7,0.09)(2006.1,-0.06)(2007.6,-0.19)(2009,-0.3)(2010,-0.28)(2011,-0.28)(2012.4,-0.19)(2013.4,-0.17)(2014.8,-0.15)(2016.3,-0.12)(2018,-0.17)};
\addplot[sGr] coordinates {(1985,-0.06)(1985.8,-0.04)(1986.7,0.03)(1987.7,-0.03)(1989.2,-0.04)(1990.1,-0.07)(1991.1,-0.06)(1992.1,-0.04)(1993,0.01)(1994,0.04)(1995,0.05)(1996.4,0.0)(1997.9,0.12)(1999.3,-0.15)(2000.8,0.0)(2002,0.0)(2002.7,0.03)(2003.7,0.14)(2004.7,0.23)(2005.6,0.16)(2006.6,0.14)(2007.8,0.16)(2009,0.07)(2010,0.03)(2011,0.0)(2011.9,-0.02)(2012.9,0.01)(2013.9,0.03)(2014.8,0.14)(2015.8,0.07)(2016.8,0.04)(2018,0.01)};
\plab{i}
\end{axis}

\begin{axis}[panel, at={(207.5pt,-314pt)}]
\panelbg
\addplot[sWt] coordinates {(1985,-0.08)(1986.2,0.0)(1986.9,0.01)(1987.7,-0.03)(1989.1,-0.14)(1990.1,-0.3)(1991.5,-0.19)(1993,-0.17)(1994,-0.21)(1996.4,-0.41)(1997.8,-0.46)(1999.3,-0.5)(2000.7,-0.51)(2002.7,-0.55)(2004.1,-0.57)(2005.6,-0.58)(2007,-0.6)(2009.5,-0.62)(2010.7,-0.58)(2011.9,-0.54)(2013.3,-0.28)(2014.3,-0.11)(2015.8,-0.08)(2017.7,0.0)(2019,0.03)};
\addplot[sSp] coordinates {(1985,0.03)(1986.2,0.1)(1987.7,0.1)(1988.9,0.11)(1990.1,-0.03)(1991.1,-0.14)(1992,-0.19)(1993.5,-0.23)(1994.4,-0.29)(1995.9,-0.3)(1997.4,-0.27)(1998.8,-0.26)(2000.3,-0.28)(2001.7,-0.26)(2002.7,-0.28)(2004.1,-0.33)(2006.1,-0.39)(2007,-0.4)(2008,-0.47)(2009.5,-0.47)(2010.9,-0.41)(2011.9,-0.39)(2013.3,-0.3)(2014.3,-0.08)(2015,0.04)(2015.8,0.03)(2017.7,0.12)(2019,0.13)};
\addplot[sSm] coordinates {(1985,-0.24)(1986.2,-0.19)(1987.7,-0.12)(1988.9,-0.19)(1990.1,-0.28)(1991.3,-0.21)(1992.3,-0.14)(1993.3,-0.2)(1994.2,-0.03)(1995.4,-0.12)(1996.4,-0.14)(1997.4,-0.14)(1998.3,-0.17)(1999.8,-0.22)(2001.2,-0.26)(2002.2,-0.3)(2003.2,-0.28)(2004.6,-0.3)(2006.1,-0.31)(2008,-0.29)(2009.5,-0.31)(2010.4,-0.29)(2012.4,-0.3)(2013.3,-0.19)(2014.8,-0.08)(2016,0.03)(2017.7,0.06)(2019,0.06)};
\addplot[sAt] coordinates {(1985,-0.08)(1986.2,-0.1)(1987.2,-0.08)(1988.1,-0.15)(1989.6,-0.26)(1991.1,-0.28)(1992,-0.24)(1993,-0.19)(1994.4,-0.21)(1995.4,-0.24)(1996.9,-0.41)(1998.3,-0.45)(1999.8,-0.47)(2001.2,-0.46)(2002.7,-0.52)(2004.1,-0.55)(2005.6,-0.59)(2006.6,-0.66)(2008,-0.7)(2009.5,-0.67)(2010.7,-0.59)(2011.6,-0.61)(2012.9,-0.41)(2014.3,-0.19)(2015.8,-0.16)(2017.7,-0.11)(2019,-0.09)};
\addplot[sNg] coordinates {(1985,0.13)(1986.2,0.2)(1987.2,0.18)(1989.1,0.2)(1990.1,0.14)(1991.5,0.03)(1992.8,-0.08)(1994.4,-0.16)(1995.9,-0.21)(1997.4,-0.26)(1999.3,-0.12)(2000.7,-0.18)(2002.2,-0.19)(2003.7,-0.2)(2005.1,-0.22)(2006.6,-0.27)(2007.3,-0.24)(2008,-0.33)(2009.5,-0.32)(2010.9,-0.28)(2011.9,-0.23)(2013.3,-0.15)(2014.8,-0.04)(2016,0.21)(2016.7,0.2)(2017.7,0.23)(2019,0.23)};
\addplot[sGr] coordinates {(1985,-0.28)(1986.2,-0.19)(1987.2,-0.12)(1988.6,-0.19)(1990.1,-0.28)(1992,-0.19)(1993.2,-0.33)(1994,-0.24)(1994.9,-0.19)(1996.4,-0.3)(1997.4,-0.31)(1998.3,-0.28)(1999.8,-0.28)(2001.2,-0.3)(2002.7,-0.24)(2004.1,-0.24)(2005.6,-0.29)(2007,-0.29)(2008,-0.27)(2009.5,-0.26)(2010.9,-0.24)(2011.9,-0.35)(2012.4,-0.39)(2013.3,-0.3)(2014.8,-0.14)(2015.8,-0.12)(2017.7,-0.06)(2019,-0.05)};
\plab{j}
\end{axis}

\begin{axis}[panel, at={(372.5pt,-314pt)}]
\panelbg
\addplot[sWt] coordinates {(1985,0.12)(1986.5,0.13)(1988.1,0.07)(1989.1,0.07)(1990.2,-0.05)(1991.2,0.01)(1992.3,0.04)(1993,0.07)(1994.3,-0.08)(1995.9,-0.24)(1997.2,-0.44)(1998.5,-0.45)(1999.6,-0.47)(2001.6,-0.5)(2003.7,-0.52)(2005.3,-0.43)(2006.9,-0.38)(2007.9,-0.41)(2009.2,-0.43)(2010.5,-0.3)(2012.6,-0.08)(2014.7,0.06)(2015.7,0.07)(2018,0.14)};
\addplot[sSp] coordinates {(1985,0.07)(1986.5,0.05)(1988.1,0.03)(1988.9,0.05)(1989.6,-0.02)(1990.7,-0.08)(1991.7,-0.14)(1994.1,-0.26)(1995.1,-0.19)(1997,-0.29)(1998,-0.26)(1999,-0.17)(2000.6,-0.17)(2002.7,-0.19)(2003.7,-0.19)(2005.3,-0.12)(2006.9,-0.11)(2007.9,-0.21)(2009.5,-0.21)(2011,-0.14)(2012.6,-0.08)(2013.7,0.05)(2014.7,0.25)(2016,0.33)(2018,0.34)};
\addplot[sSm] coordinates {(1985,-0.15)(1986,-0.15)(1987,-0.08)(1988.1,-0.1)(1989.1,-0.16)(1990.2,-0.22)(1991.2,-0.19)(1992.3,-0.08)(1993.3,-0.03)(1994.9,-0.02)(1996.4,-0.19)(1999,-0.32)(2000.6,-0.35)(2002.2,-0.35)(2003.7,-0.38)(2004.8,-0.35)(2006.3,-0.35)(2007.9,-0.28)(2009,-0.32)(2010.5,-0.33)(2012.1,-0.4)(2013.7,-0.19)(2014.7,-0.07)(2016.3,-0.14)(2018,-0.07)};
\addplot[sAt] coordinates {(1985,0.15)(1986.5,0.16)(1988.1,0.09)(1990.2,0.1)(1993,0.12)(1993.8,0.01)(1995.1,-0.03)(1996.2,-0.19)(1997.2,-0.42)(1999,-0.43)(2000.6,-0.42)(2002.2,-0.43)(2003.7,-0.45)(2004.8,-0.41)(2005.8,-0.48)(2007.4,-0.47)(2009,-0.51)(2010.5,-0.41)(2012.1,-0.24)(2013.7,-0.04)(2015.2,0.06)(2016.3,0.09)(2018,0.15)};
\addplot[sNg] coordinates {(1985,0.16)(1986.5,0.14)(1987.6,0.09)(1989.1,0.12)(1990.2,0.09)(1991.2,0.05)(1992.3,-0.03)(1993.3,-0.14)(1994.3,-0.2)(1995.4,-0.18)(1997,-0.24)(1998,-0.15)(1999,-0.05)(2000.1,-0.05)(2001.1,-0.1)(2002.2,-0.12)(2003.7,-0.11)(2005.3,-0.08)(2006.9,-0.06)(2007.9,-0.15)(2009,-0.12)(2010,-0.12)(2011,-0.08)(2012.1,-0.02)(2013.1,0.1)(2013.9,0.13)(2015,0.25)(2016,0.41)(2018,0.41)};
\addplot[sGr] coordinates {(1985,-0.11)(1986,-0.12)(1987,-0.03)(1988.6,-0.08)(1990.2,-0.19)(1991.5,-0.15)(1992.8,-0.06)(1994.1,-0.11)(1995.1,-0.15)(1997,-0.23)(1998,-0.24)(1999,-0.21)(2000.6,-0.22)(2003.2,-0.21)(2004.8,-0.19)(2005.8,-0.17)(2007.4,-0.18)(2009,-0.18)(2010.5,-0.18)(2012.1,-0.3)(2013.7,-0.24)(2014.7,-0.08)(2016,-0.08)(2018,-0.06)};
\plab{k}
\end{axis}

\begin{axis}[panel, at={(538pt,-314pt)}]
\panelbg
\addplot[sWt] coordinates {(1985,0.45)(1986.4,0.43)(1988,0.36)(1990.1,0.47)(1991.1,0.36)(1992.7,0.38)(1993.7,0.25)(1995.3,-0.08)(1996.8,-0.17)(1998.4,-0.1)(1999.5,-0.06)(2000.8,-0.1)(2002.1,-0.06)(2003.6,-0.12)(2004.9,-0.23)(2006.2,0.01)(2007.8,-0.06)(2009.1,-0.21)(2010.2,-0.06)(2011.2,-0.1)(2012.5,0.05)(2013.5,0.27)(2014.6,0.23)(2016.2,0.22)(2017.2,0.2)(2019,0.25)};
\addplot[sSp] coordinates {(1985,0.47)(1986.4,0.38)(1988,0.35)(1989.5,0.36)(1991.1,0.36)(1992.2,0.25)(1992.9,0.2)(1994.2,0.01)(1995.3,0.01)(1996.3,-0.06)(1997.9,-0.07)(1999.5,-0.03)(2001,0.04)(2002.6,0.03)(2004.7,-0.14)(2006,0.05)(2006.8,0.07)(2007.8,-0.03)(2008.9,-0.08)(2010.4,0.05)(2012,0.14)(2013.5,0.2)(2014.6,0.18)(2016.2,0.2)(2017.7,0.21)(2019,0.26)};
\addplot[sSm] coordinates {(1985,0.47)(1986.4,0.42)(1987.5,0.44)(1988.5,0.4)(1989.5,0.44)(1990.3,0.51)(1991.1,0.4)(1992.2,0.51)(1992.9,0.51)(1994.2,0.38)(1995.3,0.2)(1996.3,0.16)(1997.9,0.15)(1998.9,0.23)(2000,0.2)(2001.3,0.03)(2002.6,0.0)(2004.2,-0.06)(2005.2,-0.07)(2006.2,0.07)(2007.3,-0.03)(2008.3,0.19)(2009.1,0.12)(2010.4,0.27)(2012,0.26)(2013.5,0.41)(2014.9,0.49)(2016.2,0.42)(2017.7,0.43)(2019,0.5)};
\addplot[sAt] coordinates {(1985,-0.06)(1986.9,0.01)(1988,-0.11)(1989,-0.08)(1990.1,-0.09)(1991.1,-0.09)(1992.9,-0.02)(1994.2,-0.12)(1995.5,-0.19)(1997.1,-0.36)(1998.4,-0.32)(1999.5,-0.31)(2000.8,-0.26)(2002.1,-0.3)(2003.9,-0.27)(2005.7,-0.34)(2007.3,-0.31)(2009.1,-0.46)(2010.4,-0.46)(2012,-0.3)(2013.5,-0.04)(2015.1,-0.03)(2016.7,-0.04)(2017.7,-0.08)(2019,-0.17)};
\addplot[sNg] coordinates {(1985,0.2)(1986.4,0.14)(1987.5,0.09)(1988.5,0.1)(1989.5,0.05)(1990.6,0.07)(1991.6,-0.08)(1992.7,-0.15)(1993.7,-0.12)(1996.8,-0.2)(1998.4,-0.14)(1999.5,-0.1)(2001,-0.15)(2002.6,-0.18)(2003.6,-0.18)(2004.7,-0.2)(2006,0.05)(2007.3,-0.04)(2008.9,-0.08)(2009.9,0.04)(2010.9,-0.04)(2012.5,0.14)(2014.1,0.18)(2015.6,0.15)(2017.2,0.17)(2019,0.21)};
\addplot[sGr] coordinates {(1985,0.59)(1985.9,0.51)(1986.9,0.54)(1988.2,0.49)(1989,0.5)(1990.1,0.57)(1991.1,0.39)(1992.7,0.39)(1993.7,0.25)(1995.3,0.03)(1996.8,0.01)(1997.9,0.0)(1999.2,0.09)(2000.5,0.03)(2001.5,0.0)(2003.1,-0.04)(2004.2,-0.05)(2006,0.09)(2007.3,0.03)(2008.9,0.07)(2010.4,0.18)(2012,0.17)(2013,0.25)(2014.9,0.43)(2016.2,0.38)(2017.2,0.34)(2019,0.41)};
\plab{l}
\end{axis}

% ---------------- row 4: PDSI ----------------
\begin{axis}[panel, ylab, xlab, at={(43.5pt,-456.75pt)}]
\panelbg
\addplot[sWt] coordinates {(1985,-0.21)(1985.8,-0.22)(1987.2,-0.25)(1988.2,-0.23)(1989.7,-0.25)(1990.9,-0.17)(1992.1,-0.2)(1993.5,-0.18)(1995,-0.19)(1996,-0.2)(1996.9,-0.22)(1998.4,-0.08)(1999.3,-0.11)(2000.8,-0.19)(2002.7,-0.3)(2003.7,-0.23)(2005.2,-0.25)(2006.6,-0.19)(2007.6,-0.11)(2008.5,-0.13)(2010,-0.17)(2011.5,-0.19)(2012.9,-0.08)(2014.8,0.01)(2016.3,-0.05)(2018,-0.12)};
\addplot[sSp] coordinates {(1985,-0.14)(1986.7,-0.12)(1988.7,-0.11)(1989.9,-0.14)(1990.9,-0.05)(1991.8,-0.06)(1992.8,-0.01)(1994,0.0)(1995.5,-0.01)(1996.9,0.03)(1997.9,0.06)(1998.9,-0.06)(1999.8,0.03)(2001,-0.1)(2002.7,-0.3)(2003.9,-0.19)(2005.6,-0.24)(2006.6,-0.13)(2007.6,-0.12)(2009,-0.16)(2010.5,-0.19)(2011.5,-0.18)(2012.9,-0.11)(2014.4,0.01)(2015.6,0.03)(2016.8,-0.08)(2018,-0.14)};
\addplot[sSm] coordinates {(1985,-0.16)(1986.7,-0.24)(1987.7,-0.24)(1988.9,-0.25)(1990.9,-0.13)(1991.8,-0.2)(1992.8,-0.2)(1994,-0.16)(1995,-0.23)(1996.4,-0.29)(1997.9,-0.17)(1998.9,-0.05)(1999.8,-0.12)(2000.8,-0.19)(2002.7,-0.31)(2003.7,-0.23)(2005.2,-0.28)(2006.6,-0.22)(2007.6,-0.24)(2009.5,-0.28)(2011,-0.3)(2012.4,-0.19)(2013.9,-0.08)(2015.3,0.03)(2016.3,-0.02)(2018,-0.1)};
\addplot[sAt] coordinates {(1985,-0.28)(1986.3,-0.33)(1987.2,-0.32)(1988.2,-0.31)(1989.2,-0.32)(1990.1,-0.31)(1991.8,-0.36)(1992.8,-0.34)(1994.5,-0.33)(1996,-0.3)(1996.9,-0.24)(1997.9,-0.28)(1999.3,-0.13)(2000.8,-0.19)(2002.2,-0.28)(2003.2,-0.31)(2004.2,-0.23)(2005.6,-0.28)(2007.1,-0.23)(2008.5,-0.29)(2009.5,-0.33)(2011,-0.32)(2012.4,-0.19)(2013.9,-0.08)(2014.8,-0.02)(2016.3,-0.13)(2018,-0.19)};
\addplot[sNg] coordinates {(1985,-0.11)(1985.8,-0.1)(1986.7,-0.02)(1988.7,0.0)(1989.9,-0.06)(1990.9,0.06)(1991.8,0.06)(1992.8,0.11)(1994,0.11)(1995,0.1)(1996,0.12)(1996.9,0.15)(1997.9,0.16)(1998.9,-0.01)(1999.8,0.09)(2000.8,-0.06)(2002.5,-0.2)(2003.7,-0.12)(2005.2,-0.22)(2006.6,-0.14)(2007.6,-0.06)(2008.5,-0.06)(2010,-0.11)(2011.9,-0.13)(2012.9,-0.12)(2014.4,-0.06)(2015.8,0.02)(2016.8,0.0)(2018,-0.03)};
\addplot[sGr] coordinates {(1985,-0.2)(1986.3,-0.23)(1987.7,-0.24)(1989.2,-0.25)(1990.6,-0.19)(1991.8,-0.21)(1993,-0.24)(1994.5,-0.18)(1996,-0.22)(1997.6,-0.09)(1998.6,-0.19)(1999.8,-0.06)(2001,-0.19)(2002.7,-0.31)(2004.2,-0.25)(2005.6,-0.27)(2007.1,-0.14)(2008.5,-0.18)(2010,-0.21)(2011.5,-0.24)(2012.9,-0.13)(2014.4,0.01)(2015.6,0.03)(2016.8,-0.02)(2018,-0.08)};
\plab{m}
\end{axis}

\begin{axis}[panel, xlab, at={(207.5pt,-456.75pt)}]
\panelbg
\addplot[sWt] coordinates {(1985,-0.07)(1987.7,-0.07)(1988.6,-0.13)(1990.6,-0.3)(1991.5,-0.41)(1993.5,-0.32)(1994.9,-0.24)(1996.4,-0.19)(1997.4,-0.19)(1998.8,-0.11)(2000.3,-0.02)(2001.7,0.05)(2004.1,0.14)(2005.6,0.07)(2007,0.04)(2009,-0.02)(2010.4,-0.1)(2011.9,-0.14)(2012.9,-0.19)(2013.8,-0.22)(2015.3,0.14)(2016.7,0.18)(2017.7,0.21)(2019,0.19)};
\addplot[sSp] coordinates {(1985,0.06)(1986.7,0.07)(1988.9,0.07)(1990.1,-0.08)(1991.5,-0.19)(1993,-0.33)(1994.4,-0.24)(1995.4,-0.23)(1997.4,-0.19)(1998.3,-0.14)(1999.3,-0.01)(2000.3,0.0)(2001.7,0.14)(2004.1,0.23)(2005.3,0.14)(2007,0.07)(2009,0.03)(2010.4,-0.03)(2011.9,-0.08)(2013.3,-0.17)(2013.8,-0.19)(2015.3,0.14)(2016.7,0.12)(2019,0.1)};
\addplot[sSm] coordinates {(1985,-0.17)(1986.7,-0.14)(1987.7,-0.14)(1989.1,-0.18)(1990.3,-0.3)(1991.3,-0.41)(1992.8,-0.3)(1994.2,-0.17)(1995.4,-0.28)(1996.4,-0.23)(1997.4,-0.28)(1998.3,-0.19)(1999.8,-0.14)(2001.2,-0.02)(2002.7,0.05)(2004.6,0.12)(2006.1,0.1)(2007.5,0.06)(2009,0.03)(2010.4,-0.08)(2011.9,-0.19)(2013.3,-0.2)(2014.1,-0.18)(2015.8,0.16)(2017.2,0.25)(2019,0.26)};
\addplot[sAt] coordinates {(1985,0.07)(1986.2,0.0)(1987.7,-0.05)(1989.1,-0.08)(1990.1,-0.13)(1991.5,-0.41)(1993.5,-0.41)(1995.4,-0.3)(1996.4,-0.28)(1997.8,-0.27)(1998.8,-0.19)(2000.7,-0.05)(2003.2,0.05)(2004.6,0.1)(2006.1,0.03)(2007,-0.02)(2008.5,-0.05)(2010.2,-0.25)(2011.4,-0.14)(2012.4,-0.15)(2013.3,-0.19)(2014.3,-0.18)(2015.5,0.14)(2016.7,0.12)(2019,0.14)};
\addplot[sNg] coordinates {(1985,0.07)(1986.7,0.1)(1988.6,0.11)(1990.1,-0.08)(1991.5,-0.13)(1993,-0.24)(1994.4,-0.17)(1995.9,-0.18)(1997.4,-0.14)(1998.3,-0.08)(1999.3,0.01)(2000.3,0.03)(2002,0.16)(2004.1,0.26)(2005.3,0.14)(2006.6,0.1)(2008,0.06)(2009,0.05)(2010.4,0.02)(2012.4,-0.08)(2013.3,-0.14)(2014.1,-0.13)(2015.3,0.14)(2016.3,0.13)(2017.2,0.1)(2019,0.12)};
\addplot[sGr] coordinates {(1985,-0.31)(1986.2,-0.25)(1987.2,-0.21)(1988.1,-0.23)(1989.6,-0.3)(1991.1,-0.48)(1992,-0.43)(1993,-0.47)(1994,-0.4)(1994.9,-0.42)(1995.9,-0.3)(1997.1,-0.33)(1997.8,-0.3)(1998.8,-0.19)(1999.8,-0.17)(2001.7,-0.03)(2003.7,0.06)(2005.1,0.07)(2006.6,0.05)(2008,0.01)(2010,-0.08)(2011.4,-0.19)(2012.4,-0.23)(2013.6,-0.22)(2015.3,0.14)(2016.7,0.19)(2017.7,0.21)(2019,0.21)};
\plab{n}
\end{axis}

\begin{axis}[panel, xlab, at={(372.5pt,-456.75pt)}]
\panelbg
\addplot[sWt] coordinates {(1985,0.06)(1987,0.06)(1988.6,0.06)(1990.2,-0.05)(1991.5,-0.13)(1992.8,-0.13)(1994.1,-0.14)(1995.6,-0.08)(1997,-0.14)(1997.7,-0.17)(1999,0.05)(2000.3,0.12)(2002.2,0.16)(2003.7,0.18)(2004.8,0.21)(2006.3,0.14)(2007.9,0.01)(2009,-0.06)(2010,-0.1)(2011,-0.11)(2012.1,-0.16)(2013.1,-0.11)(2014.2,-0.1)(2015.2,0.14)(2016.3,0.19)(2017.3,0.18)(2018,0.16)};
\addplot[sSp] coordinates {(1985,0.18)(1987,0.17)(1988.9,0.17)(1990.2,0.03)(1991.5,-0.08)(1992.8,-0.13)(1994.3,-0.08)(1995.9,-0.06)(1997.2,-0.05)(1999,0.16)(2000.3,0.21)(2002.2,0.25)(2003.7,0.28)(2005.3,0.25)(2006.9,0.21)(2007.9,0.11)(2009,0.09)(2010,0.03)(2011,0.0)(2011.8,-0.05)(2013.1,-0.02)(2014.2,-0.03)(2015.2,0.14)(2016.3,0.19)(2017.3,0.16)(2018,0.14)};
\addplot[sSm] coordinates {(1985,0.02)(1987,-0.01)(1988.6,-0.05)(1990.2,-0.13)(1991,-0.16)(1992.3,-0.03)(1994.1,0.05)(1995.1,-0.13)(1996.2,-0.07)(1998,-0.21)(1999.3,0.01)(2000.6,0.05)(2002.2,0.07)(2003.7,0.07)(2005.3,0.09)(2006.9,-0.02)(2008.4,-0.13)(2009.5,-0.2)(2011,-0.28)(2012.1,-0.29)(2013.7,-0.22)(2014.7,-0.08)(2016.3,0.05)(2017.3,0.11)(2018,0.11)};
\addplot[sAt] coordinates {(1985,0.04)(1987,0.03)(1988.6,0.01)(1989.9,-0.02)(1991,-0.13)(1992,-0.19)(1993,-0.1)(1994.1,-0.2)(1995.4,-0.08)(1996.4,-0.08)(1997.5,-0.13)(1999,0.14)(2000.1,0.17)(2002.2,0.19)(2003.7,0.18)(2004.8,0.21)(2006.3,0.14)(2007.9,0.03)(2009,-0.02)(2010,-0.1)(2011,0.0)(2012.3,-0.05)(2013.7,0.03)(2014.4,0.09)(2016.3,0.28)(2018,0.27)};
\addplot[sNg] coordinates {(1985,0.19)(1987,0.19)(1988.9,0.21)(1990.2,0.09)(1991.5,-0.02)(1992.8,-0.06)(1994.1,-0.1)(1995.1,-0.02)(1996.2,-0.05)(1997.2,-0.05)(1999,0.18)(2000.3,0.23)(2001.9,0.27)(2003.7,0.29)(2005.3,0.27)(2006.9,0.23)(2007.9,0.12)(2009,0.11)(2010,0.05)(2010.8,0.04)(2011.8,-0.02)(2012.9,0.01)(2014.2,-0.05)(2015.2,0.14)(2016.3,0.19)(2017.3,0.18)(2018,0.15)};
\addplot[sGr] coordinates {(1985,-0.07)(1987,-0.05)(1988.3,-0.09)(1989.9,-0.19)(1991.2,-0.24)(1992.5,-0.18)(1993.8,-0.17)(1995.1,-0.21)(1996.2,-0.17)(1998,-0.22)(1999.3,-0.03)(2000.9,0.04)(2002.4,0.05)(2003.7,0.06)(2005.3,0.09)(2006.9,-0.02)(2008.4,-0.14)(2010,-0.23)(2011.3,-0.29)(2012.1,-0.3)(2013.4,-0.24)(2014.7,-0.08)(2016.3,0.05)(2018,0.06)};
\plab{o}
\end{axis}

\begin{axis}[panel, xlab, at={(538pt,-456.75pt)}]
\panelbg
\addplot[sWt] coordinates {(1985,0.36)(1985.9,0.38)(1987.5,0.37)(1989,0.45)(1990.6,0.54)(1991.4,0.55)(1992.7,0.52)(1994.5,0.36)(1995.8,0.33)(1997.4,0.3)(1998.7,0.27)(1999.7,0.3)(2001,0.42)(2002.6,0.5)(2004.2,0.47)(2005.7,0.42)(2007.3,0.38)(2008.9,0.29)(2009.9,0.23)(2011.2,0.29)(2013,0.27)(2014.1,0.31)(2015.6,0.28)(2016.9,0.29)(2019,0.36)};
\addplot[sSp] coordinates {(1985,0.33)(1985.9,0.36)(1987.7,0.34)(1989,0.35)(1990.6,0.45)(1991.6,0.39)(1992.9,0.27)(1994.2,0.18)(1995.8,0.21)(1997.4,0.19)(1998.4,0.21)(1999.7,0.25)(2001,0.39)(2002.6,0.47)(2004.2,0.38)(2005.7,0.33)(2007.3,0.25)(2008.3,0.21)(2009.6,0.24)(2010.7,0.21)(2012.5,0.21)(2014.1,0.25)(2015.6,0.23)(2016.9,0.21)(2019,0.31)};
\addplot[sSm] coordinates {(1985,0.39)(1985.9,0.43)(1987.5,0.39)(1988.8,0.45)(1989.8,0.54)(1992.2,0.63)(1993.2,0.61)(1994,0.55)(1995,0.37)(1996.1,0.41)(1997.4,0.39)(1998.4,0.35)(1999.7,0.35)(2001,0.42)(2002.6,0.49)(2003.6,0.43)(2006,0.48)(2007.3,0.45)(2008.3,0.4)(2009.1,0.35)(2010.2,0.4)(2011.2,0.36)(2012,0.37)(2013.5,0.45)(2014.9,0.49)(2015.9,0.48)(2016.7,0.47)(2017.7,0.5)(2019,0.49)};
\addplot[sAt] coordinates {(1985,0.18)(1986.1,0.24)(1988,0.22)(1989,0.27)(1990.6,0.45)(1991.9,0.43)(1992.9,0.43)(1994.2,0.25)(1995.3,0.3)(1996.8,0.23)(1998.2,0.26)(1999.2,0.19)(2000.2,0.29)(2001.5,0.39)(2002.8,0.4)(2004.2,0.31)(2005.2,0.29)(2006.8,0.21)(2007.8,0.19)(2009.4,0.09)(2010.9,-0.02)(2012.2,0.04)(2014.6,0.13)(2015.6,0.11)(2016.9,0.1)(2017.7,0.1)(2019,0.19)};
\addplot[sNg] coordinates {(1985,0.25)(1985.9,0.3)(1987.5,0.29)(1988.8,0.31)(1990.1,0.4)(1990.8,0.43)(1991.9,0.29)(1993.2,0.23)(1994.2,0.14)(1995.5,0.17)(1996.8,0.15)(1997.9,0.15)(1998.9,0.18)(2001,0.34)(2002.6,0.46)(2004.2,0.36)(2005.2,0.33)(2006.8,0.25)(2007.8,0.25)(2009.4,0.29)(2010.7,0.23)(2012,0.24)(2013,0.23)(2014.1,0.18)(2015.6,0.21)(2016.9,0.19)(2019,0.31)};
\addplot[sGr] coordinates {(1985,0.36)(1985.9,0.43)(1987.7,0.39)(1989,0.47)(1990.1,0.58)(1991.1,0.62)(1992.2,0.63)(1993.5,0.52)(1994.5,0.36)(1995.8,0.34)(1997.4,0.31)(1998.7,0.3)(1999.7,0.34)(2001,0.42)(2002.6,0.5)(2004.2,0.43)(2005.7,0.47)(2007.3,0.41)(2008.3,0.36)(2009.4,0.33)(2010.4,0.3)(2011.2,0.31)(2013,0.45)(2014.3,0.46)(2015.9,0.4)(2017.2,0.44)(2018.2,0.47)(2019,0.46)};
\plab{p}
\end{axis}

% ---------------- strips and titles ----------------
\foreach \x/\name in {43.5/{P. yunnanensis}, 207.5/{A. forrestii}, 372.5/{P. likiangensis}, 538/{T. dumosa}} {
  \fill[stripc] (\x pt,-7pt) rectangle ++(162.25pt,-21.3pt);
  \node[font=\fontsize{12.5}{14}\selectfont\itshape, text={rgb,255:red,26;green,26;blue,26}] at ([xshift=81.125pt]\x pt,-17.6pt) {\name};
}
\foreach \y/\name in {28.5/Tmean, 171.25/Pre, 314/RH, 456.75/PDSI} {
  \fill[stripc] (700.25pt,-\y pt) rectangle ++(21.25pt,-140pt);
  \node[font=\fontsize{12.5}{14}\selectfont, rotate=-90, text={rgb,255:red,26;green,26;blue,26}] at (710.9pt,-\y pt-70pt) {\name};
}
\node[font=\fontsize{12}{14}\selectfont, rotate=90] at (10.5pt,-312.5pt) {Correlation coefficient};
\node[font=\fontsize{15}{17}\selectfont\bfseries] at (371pt,-623pt) {Year};
\end{tikzpicture}
\end{document}
